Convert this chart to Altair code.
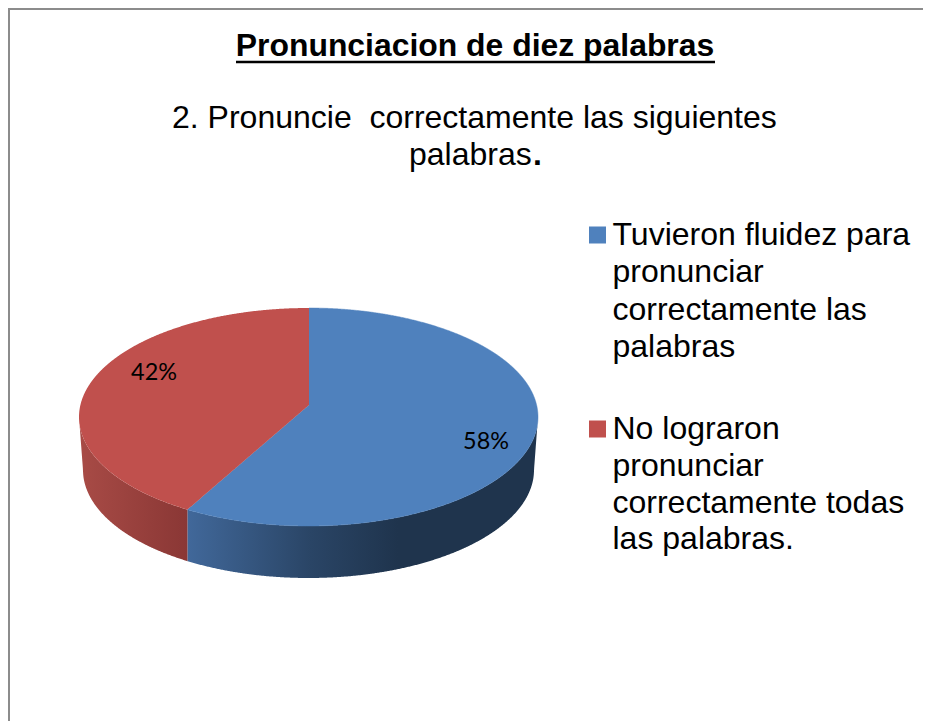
import numpy as np
import pandas as pd
import altair as alt

# ---- data ----
categories = ["Tuvieron fluidez para pronunciar correctamente las palabras",
              "No lograron pronunciar correctamente todas las palabras."]
values = [58, 42]
labels = ["58%", "42%"]
colors = ["#4F81BD", "#C0504D"]
legend_lines = [["Tuvieron fluidez para", "pronunciar", "correctamente las", "palabras"],
                ["No lograron", "pronunciar", "correctamente todas", "las palabras."]]
title_text = "Pronunciacion de diez palabras"
subtitle_lines = ["2. Pronuncie\u00a0\u00a0correctamente las siguientes", "palabras"]

W, H = 915, 713
xs = alt.Scale(domain=[8, 923], nice=False, zero=False)
ys = alt.Scale(domain=[721, 8], nice=False, zero=False)
X = lambda f="x": alt.X(f"{f}:Q", scale=xs, axis=None)
Y = lambda f="y": alt.Y(f"{f}:Q", scale=ys, axis=None)

# pie geometry: ellipse of the top face, with perspective for the apex
CX, CY, RX, RY = 308.5, 417.0, 229.5, 109.0
AX, AY = 309.0, 405.0
BX, BY, BRX, BRY = 308.5, 470.0, 225.5, 108.0
C, A, R = -0.110, 63.1, 227.6


def project(frac):
    th = 2 * np.pi * frac
    u, v = np.sin(th), -np.cos(th)
    d = 1 + C * v
    return AX + R * u / d, (A * v + AY) / d


def upper(x):
    return CY - RY * np.sqrt(np.clip(1 - ((x - CX) / RX) ** 2, 0, 1))


def lower(x):
    return CY + RY * np.sqrt(np.clip(1 - ((x - CX) / RX) ** 2, 0, 1))


def rim_bottom(x):
    x = np.asarray(x, dtype=float)
    out = BY + BRY * np.sqrt(np.clip(1 - ((x - BX) / BRX) ** 2, 0, 1))
    lft = x < BX - BRX
    rgt = x > BX + BRX
    out[lft] = CY + (BY - CY) * (x[lft] - (CX - RX)) / ((BX - BRX) - (CX - RX))
    out[rgt] = CY + (BY - CY) * ((CX + RX) - x[rgt]) / ((CX + RX) - (BX + BRX))
    return out


ex, ey = project(values[0] / sum(values))
t = np.linspace(0, np.pi, 721)
grid = np.sort(CX + RX * np.cos(t))

# red slice of the top face
xr = np.unique(np.concatenate([grid[grid < AX], [ex, AX]]))
line = ey + (AY - ey) * (xr - ex) / (AX - ex)
red_top = pd.DataFrame({"x": xr, "y": upper(xr), "y2": np.where(xr < ex, lower(xr), line)})

# blue slice of the top face
xb1 = np.unique(np.concatenate([grid[(grid > ex) & (grid < AX)], [ex, AX]]))
xb2 = np.unique(np.concatenate([grid[grid > AX], [AX + 0.01]]))
blue_top = pd.DataFrame({
    "x": np.concatenate([xb1, xb2]),
    "y": np.concatenate([ey + (AY - ey) * (xb1 - ex) / (AX - ex), upper(xb2)]),
    "y2": np.concatenate([lower(xb1), lower(xb2)]),
})

# walls
xw_r = np.unique(np.concatenate([grid[grid < ex], [ex]]))
xw_b = np.unique(np.concatenate([grid[grid > ex], [ex]]))
red_wall = pd.DataFrame({"x": xw_r, "y": lower(xw_r), "y2": rim_bottom(xw_r)})
blue_wall = pd.DataFrame({"x": xw_b, "y": lower(xw_b), "y2": rim_bottom(xw_b)})


def grad(stops):
    return alt.Gradient(gradient="linear", x1=0, x2=1, y1=0, y2=0,
                        stops=[alt.GradientStop(offset=o, color=c) for o, c in stops])


def area(df, fill, **kw):
    return alt.Chart(df).mark_area(color=fill, opacity=1, **kw).encode(
        x=X(), y=Y(), y2=alt.Y2("y2:Q")
    )


layers = [
    area(red_wall, grad([(0, "#A84B46"), (1, "#8A3735")])),
    area(blue_wall, grad([(0, "#41689A"), (0.35, "#2A4566"), (0.6, "#1F344D"), (1, "#1F344D")])),
    area(blue_top, colors[0], stroke=colors[0], strokeWidth=0.5),
    area(red_top, colors[1]),
]

# frame
frame_v = alt.Chart(pd.DataFrame({"x": [9], "y": [8], "y2": [721]})).mark_rule(
    color="#8C8C8C", strokeWidth=2).encode(x=X(), y=Y(), y2="y2:Q")
frame_h = alt.Chart(pd.DataFrame({"x": [8], "x2": [923], "y": [9]})).mark_rule(
    color="#8C8C8C", strokeWidth=2).encode(x=X(), x2="x2:Q", y=Y())
layers += [frame_v, frame_h]


def text(rows, font, size, weight="normal", align="left"):
    return alt.Chart(pd.DataFrame(rows, columns=["x", "y", "t"])).mark_text(
        font=font, fontSize=size, fontWeight=weight, align=align, baseline="alphabetic", color="#000000"
    ).encode(x=X(), y=Y(), text="t:N")


F = "Liberation Sans"
layers.append(text([(475, 56, title_text)], F, 31.9, "bold", "center"))
layers.append(alt.Chart(pd.DataFrame({"x": [236], "x2": [715], "y": [62]})).mark_rule(
    color="#000000", strokeWidth=2.5).encode(x=X(), x2="x2:Q", y=Y()))
layers.append(text([(172, 128, subtitle_lines[0]), (409, 165, subtitle_lines[1])], F, 32))
layers.append(text([(533, 165, ".")], F, 32, "bold"))

# slice labels
layers.append(text([(486, 449, labels[0]), (154, 380, labels[1])], "Lato", 23.4, "normal", "center"))

# legend
legend_sq = pd.DataFrame({"x": [597.5, 597.5], "y": [235, 429], "c": categories})
layers.append(alt.Chart(legend_sq).mark_square(size=289, opacity=1).encode(
    x=X(), y=Y(), color=alt.Color("c:N", scale=alt.Scale(domain=categories, range=colors), legend=None)))
rows = []
for lines, ybs in zip(legend_lines, [[245, 282, 320, 357], [439, 476, 513, 549]]):
    rows += [(612.5, yb, s) for yb, s in zip(ybs, lines)]
layers.append(text(rows, F, 32))

chart = alt.layer(*layers).properties(
    width=W, height=H, padding=0, autosize=alt.AutoSizeParams(type="none"), background="white"
).configure_view(stroke=None)
chart.save("out.html", embed_options={"renderer": "svg", "actions": False})
